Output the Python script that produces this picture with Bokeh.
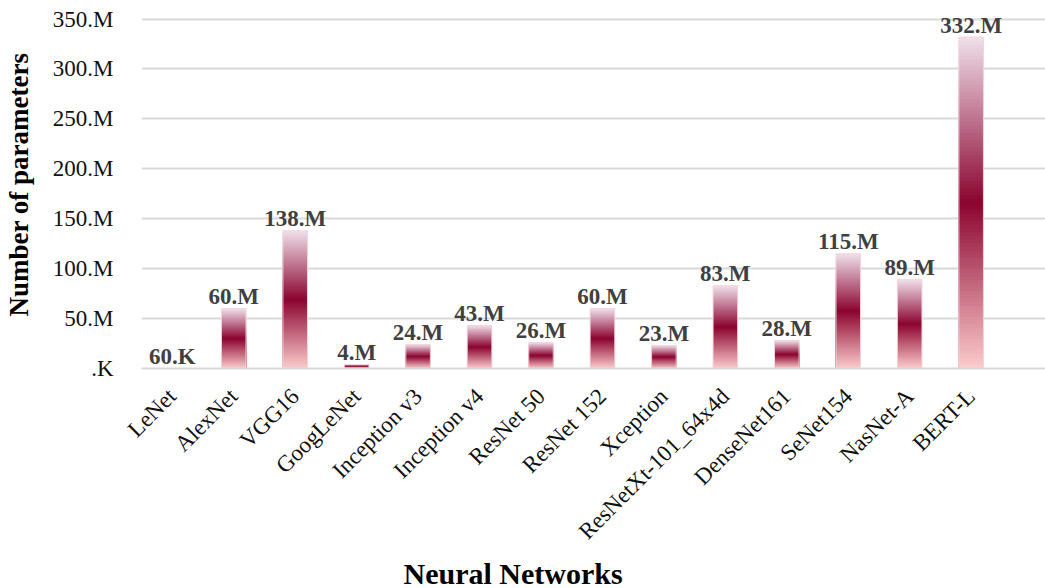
import math
from bokeh.plotting import figure
from bokeh.models import FixedTicker, Title, ColumnDataSource
from bokeh.embed import file_html
from bokeh.resources import INLINE

# Parameter counts of well-known neural networks (in millions)
networks = ["LeNet", "AlexNet", "VGG16", "GoogLeNet", "Inception v3", "Inception v4",
            "ResNet 50", "ResNet 152", "Xception", "ResNetXt-101_64x4d", "DenseNet161",
            "SeNet154", "NasNet-A", "BERT-L"]
params_m = [0.06, 60, 138, 4, 24, 43, 26, 60, 23, 83, 28, 115, 89, 332]

y_ticks = [0, 50, 100, 150, 200, 250, 300, 350]
y_tick_labels = [".K", "50.M", "100.M", "150.M", "200.M", "250.M", "300.M", "350.M"]

SERIF = "Liberation Serif"

# vertical gradient stops for the bars: bottom -> middle -> top
grad_stops = [(0.0, (252, 204, 204)), (0.5, (139, 4, 48)), (1.0, (240, 224, 234))]


def grad_color(t):
    for (t0, c0), (t1, c1) in zip(grad_stops[:-1], grad_stops[1:]):
        if t <= t1:
            f = (t - t0) / (t1 - t0)
            r, g, b = (round(a + (b_ - a) * f) for a, b_ in zip(c0, c1))
            return "#%02x%02x%02x" % (r, g, b)
    return "#%02x%02x%02x" % grad_stops[-1][1]


def fmt(v):
    return f"{v * 1000:.0f}.K" if v < 1 else f"{v:.0f}.M"


xs = list(range(len(networks)))
bar_w = 0.40

p = figure(width=1045, height=588, output_backend="svg", toolbar_location=None,
           x_range=(-0.501, 14.21), y_range=(0, 368.6),
           min_border_left=135, min_border_right=0, min_border_top=0,
           min_border_bottom=0)
p.outline_line_color = None
p.background_fill_color = "white"
p.border_fill_color = "white"

# gradient bars: stacked columns drawn tallest first, each shorter one on top,
# so the colour bands join without seams
N = 90
left, right, top, color = [], [], [], []
for k in reversed(range(N)):
    for x, v in zip(xs, params_m):
        left.append(x - bar_w / 2)
        right.append(x + bar_w / 2)
        top.append(v * (k + 1) / N)
        color.append(grad_color((k + 0.5) / N))
p.quad(left=left, right=right, bottom=0, top=top, fill_color=color,
       line_color=None)
# thin light rim around each bar
p.quad(left=[x - bar_w / 2 for x in xs], right=[x + bar_w / 2 for x in xs],
       bottom=[0] * len(xs), top=params_m, fill_color=None,
       line_color="#f7d3db", line_width=1)

# value labels above bars
src = ColumnDataSource(dict(x=xs, y=params_m, t=[fmt(v) for v in params_m]))
p.text(x="x", y="y", text="t", source=src, text_align="center",
       text_baseline="alphabetic", y_offset=-12, text_font=SERIF,
       text_font_size="23px", text_font_style="bold", text_color="#404040")

# axes
p.xaxis.ticker = FixedTicker(ticks=xs)
p.xaxis.major_label_overrides = {i: n for i, n in enumerate(networks)}
p.xaxis.major_label_orientation = math.pi / 4
p.xaxis.major_label_text_font = SERIF
p.xaxis.major_label_text_font_size = "23px"
p.xaxis.major_label_text_color = "#111111"
p.xaxis.major_label_standoff = 18
p.xaxis.major_tick_line_color = None
p.xaxis.minor_tick_line_color = None
p.xaxis.axis_line_color = "#d9d9d9"
p.xaxis.axis_line_width = 2

p.yaxis.ticker = FixedTicker(ticks=y_ticks)
p.yaxis.major_label_overrides = dict(zip(y_ticks, y_tick_labels))
p.yaxis.major_label_text_font = SERIF
p.yaxis.major_label_text_font_size = "23px"
p.yaxis.major_label_text_color = "#111111"
p.yaxis.major_label_standoff = 22
p.yaxis.major_tick_line_color = None
p.yaxis.minor_tick_line_color = None
p.yaxis.axis_line_color = None
p.yaxis.axis_label = "Number of parameters"
p.yaxis.axis_label_text_font = SERIF
p.yaxis.axis_label_text_font_size = "27px"
p.yaxis.axis_label_text_font_style = "bold"
p.yaxis.axis_label_text_color = "#000000"
p.yaxis.axis_label_standoff = 16

p.xgrid.grid_line_color = None
p.ygrid.grid_line_color = "#d9d9d9"
p.ygrid.grid_line_width = 2
p.ygrid.ticker = FixedTicker(ticks=y_ticks)

# x-axis title
p.add_layout(Title(text="Neural Networks", align="left", offset=262, standoff=-2,
                   text_line_height=0.8, text_font=SERIF, text_font_size="30px",
                   text_font_style="bold", text_color="#000000"), "below")

open("out.html", "w").write(file_html(p, INLINE))
